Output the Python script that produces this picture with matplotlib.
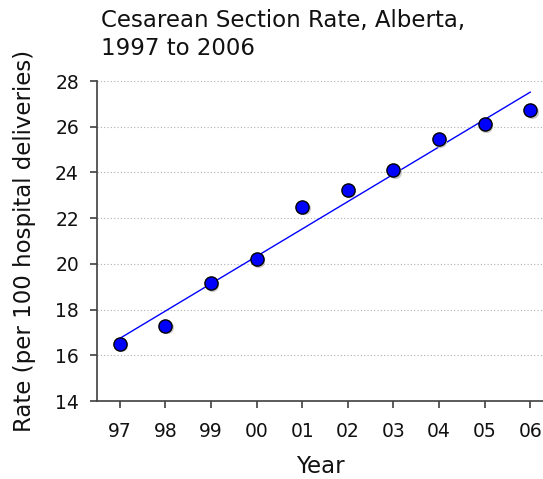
import numpy as np
import matplotlib
matplotlib.use('Agg')
import matplotlib.pyplot as plt

# Cesarean section rate per 100 hospital deliveries, Alberta
years = ['97', '98', '99', '00', '01', '02', '03', '04', '05', '06']
rates = [16.5, 17.3, 19.15, 20.2, 22.5, 23.25, 24.1, 25.45, 26.1, 26.72]
yticks = [14, 16, 18, 20, 22, 24, 26, 28]

plt.rcParams['font.family'] = ['DejaVu Sans']

fig = plt.figure(figsize=(5.43, 4.79), dpi=100)
ax = fig.add_axes([0.1786, 0.1628, 0.8214, 0.668])

x = np.arange(len(years))

# linear trend fitted to the yearly rates
slope, intercept = np.polyfit(x, rates, 1)
ax.plot(x, slope * x + intercept, color='#0000ff', lw=1.0, zorder=2)

# points with a faint drop shadow
ax.plot(x + 0.03, np.array(rates) - 0.06, 'o', ms=9.5, color='#c8c8c8',
        mec='none', zorder=2.5)
ax.plot(x, rates, 'o', ms=9.5, color='#0000ff', mec='black', mew=1.0, zorder=3)

ax.set_xlim(-0.5, 9.28)
ax.set_ylim(14, 28)
ax.set_xticks(x)
ax.set_xticklabels(years)
ax.set_yticks(yticks)

for t in yticks[1:]:
    ax.axhline(t, color='#b0b0b0', lw=0.8, ls=(0, (1, 2)), zorder=1)

for side in ['top', 'right']:
    ax.spines[side].set_visible(False)
for side in ['left', 'bottom']:
    ax.spines[side].set_color('#404040')
    ax.spines[side].set_linewidth(1.2)

ax.tick_params(axis='both', direction='out', length=5, width=1.2,
               color='#404040', labelsize=13.5, labelcolor='#111111')
ax.tick_params(axis='x', pad=10)
ax.tick_params(axis='y', pad=8)

ax.set_xlabel('Year', fontsize=16.5, labelpad=10, color='#111111')
ax.set_ylabel('Rate (per 100 hospital deliveries)', fontsize=16.5,
              labelpad=14, color='#111111')

fig.text(0.186, 0.982, 'Cesarean Section Rate, Alberta,\n1997 to 2006',
         fontsize=16.5, va='top', ha='left', color='#111111', linespacing=1.28)

fig.savefig('out.png', dpi=100)
